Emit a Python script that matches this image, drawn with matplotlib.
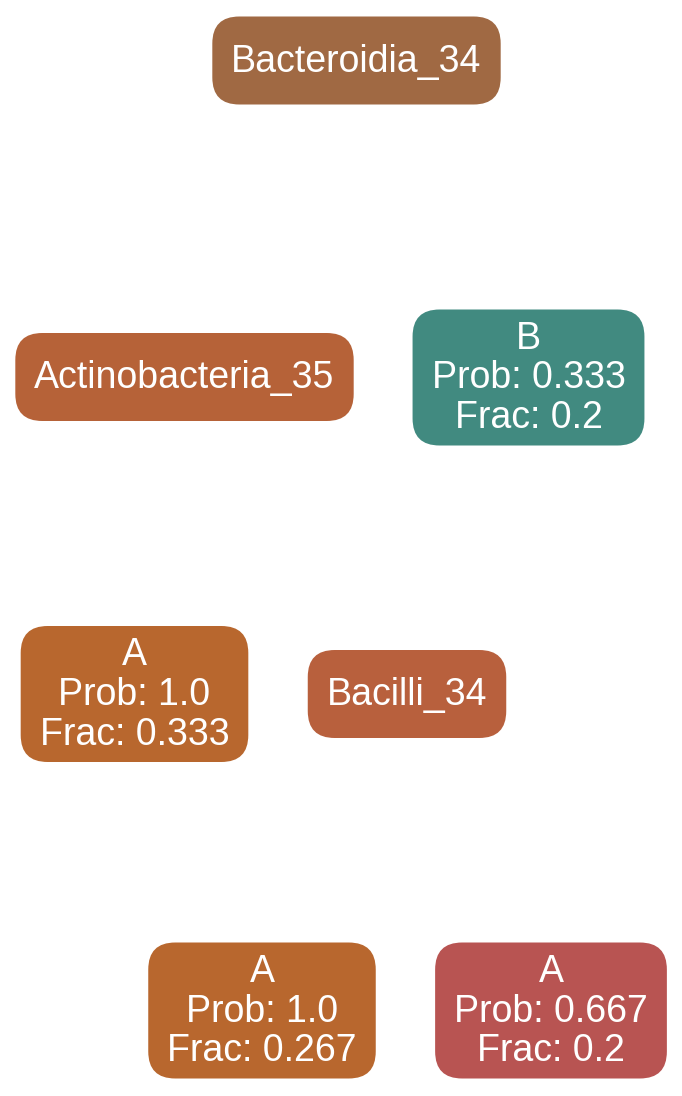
import matplotlib
matplotlib.use("Agg")
import matplotlib.pyplot as plt
from matplotlib.patches import FancyBboxPatch

# ---- data: decision tree nodes (no edges are drawn in the reference) ----
node_names = ["Bacteroidia_34", "Actinobacteria_35", "B", "A", "Bacilli_34", "A", "A"]
node_is_leaf = [False, False, True, True, False, True, True]
leaf_prob = [None, None, 0.333, 1.0, None, 1.0, 0.667]
leaf_frac = [None, None, 0.2, 0.333, None, 0.267, 0.2]
node_colors = ["#A06943", "#B66238", "#418A80", "#B8672E", "#B8603D", "#B8672E", "#B85452"]

# ---- layout (pixel centres of nodes in a 682 x 1096 canvas) ----
layout_x = [356.5, 184.5, 528.5, 134.5, 407.0, 262.0, 551.0]
layout_y = [60.5, 377.0, 377.5, 694.0, 694.0, 1010.5, 1010.5]

W, H = 682, 1096
fig = plt.figure(figsize=(W / 100, H / 100), dpi=100)
ax = fig.add_axes([0, 0, 1, 1])
ax.set_xlim(0, W)
ax.set_ylim(H, 0)
ax.axis("off")

fam = ["Liberation Sans", "DejaVu Sans"]
fs = 27
pad_x = 19
radius = 27

fig.canvas.draw()
renderer = fig.canvas.get_renderer()

for i, name in enumerate(node_names):
    if node_is_leaf[i]:
        label = f"{name}\nProb: {leaf_prob[i]}\nFrac: {leaf_frac[i]}"
        h = 136
    else:
        label = name
        h = 88
    cx, cy = layout_x[i], layout_y[i]
    t = ax.text(cx, cy + 1, label, ha="center", va="center", color="white",
                fontsize=fs, family=fam, linespacing=1.13, zorder=3)
    bb = t.get_window_extent(renderer=renderer)
    w = bb.width + 2 * pad_x
    box = FancyBboxPatch((cx - w / 2, cy - h / 2), w, h,
                         boxstyle=f"round,pad=0,rounding_size={radius}",
                         facecolor=node_colors[i], edgecolor="none", zorder=2)
    ax.add_patch(box)

fig.savefig("out.png", dpi=100, facecolor="white")
